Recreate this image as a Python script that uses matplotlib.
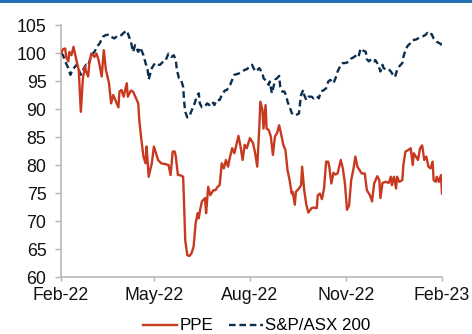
import matplotlib
matplotlib.use("Agg")
import matplotlib.pyplot as plt
from matplotlib.patches import Rectangle
import pandas as pd

plt.rcParams['font.family'] = ['Liberation Sans', 'DejaVu Sans']

# days since 2022-02-01 and rebased values (start = 100)
ppe_days = [0, 2, 4, 5, 7, 8, 10, 12, 15, 17, 19, 21, 23, 24, 26, 27, 29, 32, 34, 36,
            39, 41, 43, 46, 48, 50, 52, 55, 56, 58, 60, 63, 64, 67, 69, 71, 74, 75, 77, 79,
            81, 82, 84, 87, 89, 91, 93, 96, 99, 103, 105, 107, 109, 110, 112, 114, 117, 118, 119, 121,
            123, 125, 127, 129, 131, 132, 133, 135, 138, 139, 141, 143, 146, 148, 150, 152, 154, 156, 158, 160,
            162, 164, 166, 168, 170, 172, 174, 176, 178, 181, 184, 186, 188, 190, 191, 193, 194, 196, 197, 199,
            201, 203, 205, 207, 209, 211, 213, 215, 217, 219, 221, 222, 224, 225, 228, 230, 231, 233, 235, 237,
            240, 242, 245, 246, 248, 250, 252, 254, 256, 257, 259, 261, 263, 265, 268, 270, 272, 274, 276, 278,
            280, 282, 284, 286, 288, 291, 293, 296, 298, 300, 303, 305, 306, 308, 311, 314, 316, 317, 319, 321,
            322, 324, 327, 328, 330, 332, 335, 337, 338, 340, 342, 344, 346, 348, 350, 352, 354, 356, 357, 359,
            360, 362, 364, 365]
ppe_vals = [100.0, 100.7, 100.8, 99.3, 98.5, 100.2, 99.6, 101.1, 98.5, 97.0, 89.5, 95.5, 97.6, 96.7, 95.8, 97.9, 99.9, 99.3, 99.9, 98.75,
            95.8, 100.5, 97.0, 94.6, 91.0, 92.5, 91.6, 90.3, 93.1, 93.4, 92.2, 94.6, 92.2, 93.3, 93.1, 92.3, 91.0, 88.0, 84.5, 81.5,
            80.3, 83.3, 77.9, 80.3, 83.3, 82.1, 80.9, 80.3, 80.2, 80.0, 78.2, 82.4, 82.4, 81.5, 78.2, 78.2, 77.9, 72.6, 66.6, 63.9,
            63.75, 64.2, 65.4, 69.6, 71.4, 70.5, 71.7, 73.5, 74.1, 71.4, 76.1, 74.6, 75.5, 75.5, 76.1, 76.4, 80.3, 79.4, 80.9, 79.7,
            81.5, 83.0, 82.1, 83.6, 85.2, 83.3, 80.9, 83.6, 83.0, 84.8, 83.9, 82.1, 79.7, 86.8, 91.3, 89.8, 86.5, 90.7, 86.5, 86.25,
            85.1, 81.8, 85.1, 85.7, 87.1, 85.4, 83.6, 82.7, 79.1, 77.3, 74.9, 75.2, 72.9, 75.2, 75.8, 76.4, 79.7, 75.5, 72.9, 71.5,
            72.3, 72.4, 72.3, 74.6, 74.9, 73.9, 75.8, 80.6, 80.6, 79.7, 76.7, 78.6, 78.3, 78.5, 80.9, 79.4, 76.7, 72.0, 72.8, 77.3,
            79.1, 81.5, 79.7, 79.1, 78.5, 78.5, 75.5, 74.6, 73.5, 76.7, 78.0, 77.3, 74.1, 76.8, 77.0, 76.8, 77.9, 76.4, 77.9, 75.8,
            77.9, 77.0, 77.3, 80.0, 82.4, 82.6, 83.0, 80.0, 82.1, 81.5, 80.9, 83.0, 83.5, 80.9, 81.5, 79.7, 79.4, 80.6, 77.3, 77.0,
            77.9, 77.0, 78.2, 74.9]

asx_days = [0, 2, 4, 7, 9, 11, 15, 17, 19, 22, 24, 26, 29, 32, 35, 37, 40, 43, 46, 48,
            51, 55, 58, 60, 63, 65, 67, 69, 71, 74, 76, 79, 81, 83, 84, 87, 90, 93, 95, 98,
            100, 102, 103, 106, 108, 110, 111, 113, 115, 117, 118, 119, 121, 123, 124, 126, 128, 130, 132, 133,
            135, 138, 140, 142, 145, 147, 149, 152, 154, 157, 159, 162, 164, 166, 169, 171, 174, 176, 178, 181,
            183, 186, 189, 190, 193, 194, 197, 199, 200, 202, 204, 205, 207, 209, 210, 212, 214, 216, 217, 219,
            221, 223, 225, 228, 229, 230, 232, 233, 235, 237, 240, 242, 245, 247, 249, 252, 254, 256, 258, 261,
            263, 265, 268, 270, 272, 274, 276, 278, 280, 283, 285, 287, 289, 292, 293, 295, 297, 300, 301, 304,
            306, 308, 309, 312, 314, 316, 318, 320, 322, 324, 327, 328, 330, 332, 335, 337, 340, 342, 344, 347,
            349, 351, 353, 355, 357, 360, 362, 364, 365]
asx_vals = [100.0, 99.6, 98.5, 97.3, 96.1, 97.0, 97.9, 97.0, 96.1, 97.3, 97.9, 97.7, 99.6, 100.2, 101.25, 101.7, 102.9, 103.2, 103.3, 102.9,
            102.6, 103.2, 103.2, 103.6, 104.0, 103.0, 102.0, 100.2, 101.4, 100.2, 101.0, 99.6, 98.2, 97.0, 95.3, 97.3, 98.2, 97.9, 97.9, 98.5,
            98.6, 99.5, 99.9, 99.3, 99.6, 98.75, 97.0, 95.5, 95.2, 94.0, 91.3, 89.5, 88.5, 88.6, 89.2, 90.1, 91.0, 92.2, 92.8, 91.0,
            90.3, 90.5, 91.0, 90.7, 91.3, 90.7, 91.6, 91.6, 92.5, 93.3, 93.4, 94.3, 95.2, 96.1, 96.25, 96.4, 96.7, 97.0, 97.1, 97.6,
            97.9, 96.7, 97.1, 97.3, 96.4, 95.5, 94.9, 94.3, 94.9, 92.8, 94.3, 95.2, 95.5, 95.9, 94.0, 93.1, 93.1, 92.3, 91.3, 90.4,
            89.3, 88.9, 88.9, 89.2, 91.0, 92.5, 93.4, 92.5, 91.6, 92.2, 92.2, 91.9, 92.3, 91.9, 93.1, 93.4, 93.7, 94.9, 95.2, 94.6,
            95.5, 96.7, 97.9, 98.2, 98.2, 98.3, 98.5, 99.0, 99.2, 99.6, 99.3, 100.8, 100.5, 100.2, 98.9, 98.5, 98.9, 98.5, 98.75, 97.9,
            96.7, 97.9, 97.3, 97.0, 97.1, 96.7, 96.1, 95.7, 97.0, 97.6, 98.2, 99.3, 100.5, 101.25, 101.8, 102.3, 102.4, 102.6, 102.8, 103.0,
            103.2, 103.6, 103.2, 103.4, 102.6, 102.0, 101.8, 101.6, 101.1]

y_ticks = [60, 65, 70, 75, 80, 85, 90, 95, 100, 105]
x_tick_labels = ['Feb-22', 'May-22', 'Aug-22', 'Nov-22', 'Feb-23']
x_tick_dates = ['2022-02-01', '2022-05-01', '2022-08-01', '2022-11-01', '2023-02-01']

start = pd.Timestamp('2022-02-01')
ppe_dates = start + pd.to_timedelta(ppe_days, unit='D')
asx_dates = start + pd.to_timedelta(asx_days, unit='D')

fig = plt.figure(figsize=(4.72, 3.34), dpi=100)
fig.patches.append(Rectangle((0, 1 - 3 / 334), 1, 3 / 334, transform=fig.transFigure,
                             facecolor='#2271B3', edgecolor='none', zorder=10))
ax = fig.add_axes([61 / 472, 1 - 277 / 334, (442 - 61) / 472, (277 - 25) / 334])

red = '#C8391F'
navy = '#0C2E4E'
ax.plot(ppe_dates, ppe_vals, color=red, lw=1.7, label='PPE', zorder=3)
ax.plot(asx_dates, asx_vals, color=navy, lw=1.7, ls=(0, (2.8, 1.6)), label='S&P/ASX 200', zorder=2)

ax.set_ylim(60, 105)
ax.set_yticks(y_ticks)
ax.set_xlim(pd.Timestamp(x_tick_dates[0]), pd.Timestamp(x_tick_dates[-1]))
ax.set_xticks(pd.to_datetime(x_tick_dates))
ax.set_xticklabels(x_tick_labels)

for s in ['top', 'right']:
    ax.spines[s].set_visible(False)
for s in ['left', 'bottom']:
    ax.spines[s].set_color('#B3B3B3')
    ax.spines[s].set_linewidth(1.1)
ax.tick_params(axis='y', direction='out', length=4.5, width=1.0, color='#B3B3B3',
               labelsize=12.8, labelcolor='#111111', pad=6)
ax.tick_params(axis='x', direction='out', length=3, width=1.0, color='#B3B3B3',
               labelsize=12.8, labelcolor='#111111', pad=4.5)

handles, labels = ax.get_legend_handles_labels()
fig.legend(handles, labels, loc='center', bbox_to_anchor=(257 / 472, 1 - 326 / 334),
           ncol=2, frameon=False, fontsize=12.2, handlelength=2.0, handletextpad=0.15,
           columnspacing=0.9, borderpad=0)

fig.savefig('out.png', dpi=100)
